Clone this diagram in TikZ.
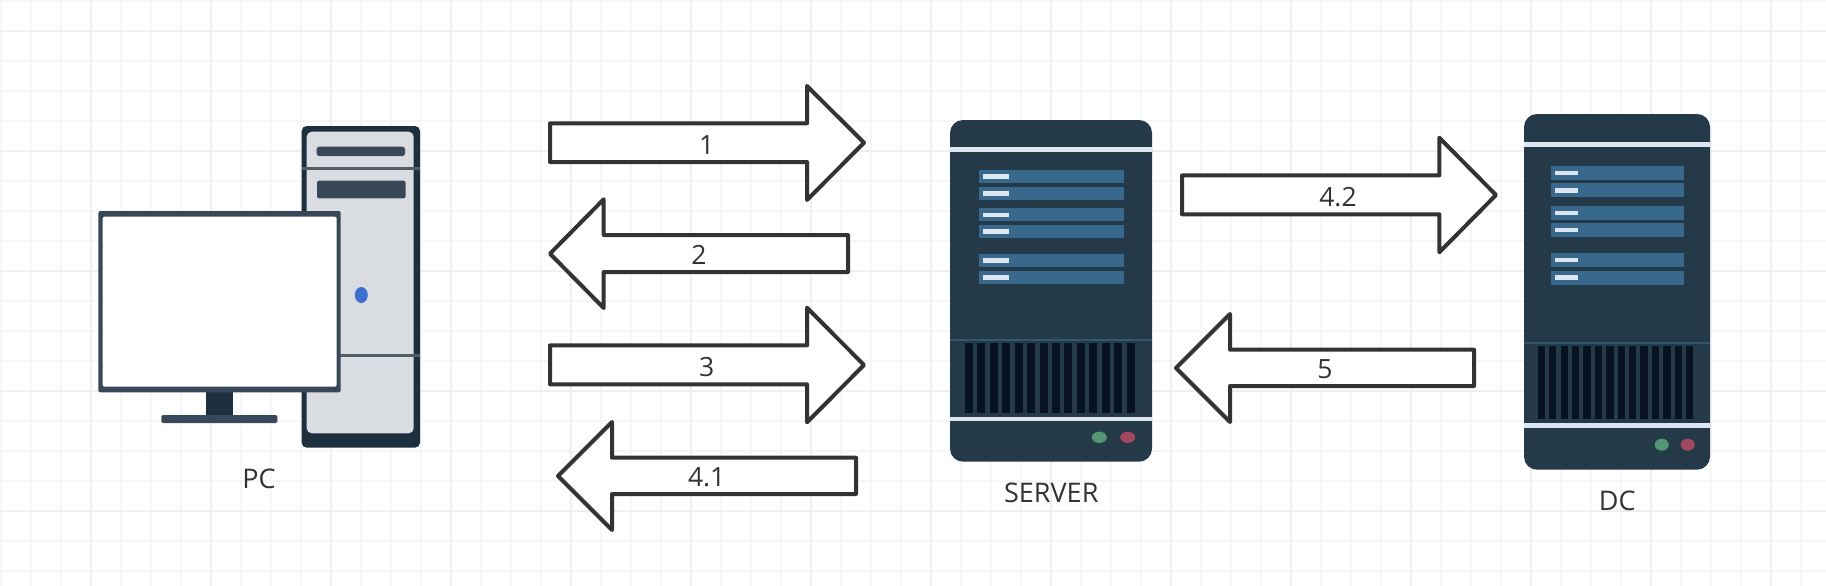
\documentclass[tikz,border=0pt]{standalone}
\usepackage{fontspec}
\setmainfont{Open Sans}
\definecolor{gridminor}{HTML}{F6F6F6}
\definecolor{gridmajor}{HTML}{EFEFEF}
\definecolor{ink}{HTML}{333333}
\definecolor{towerdark}{HTML}{1E2F3E}
\definecolor{towerface}{HTML}{D9DCE1}
\definecolor{towerline}{HTML}{4F5F62}
\definecolor{slate}{HTML}{384858}
\definecolor{powerdot}{HTML}{3B6FD0}
\definecolor{srvbody}{HTML}{243A48}
\definecolor{srvbarc}{HTML}{38698C}
\definecolor{srvpale}{HTML}{DCE6F0}
\definecolor{srvblue}{HTML}{2F5870}
\definecolor{srvslat}{HTML}{071321}
\definecolor{ledgreen}{HTML}{539672}
\definecolor{ledred}{HTML}{A1475F}
\tikzset{
  x=1pt,y=-1pt,
  blockarrow/.style={draw=ink,fill=white,line width=4pt,line join=round},
  lbl/.style={inner sep=0pt,anchor=base,text=ink,font=\fontsize{27}{30}\selectfont},
  numlbl/.style={inner sep=0pt,anchor=base,text=ink,font=\fontsize{26.5}{30}\selectfont}
}
\newcommand{\srvframe}[7]{%
  \fill[srvbody,rounded corners=13pt] (#1,#2) rectangle (#3,#4);
  \fill[srvpale] (#1,#5-2.2) rectangle (#3,#5+2.2);
  \fill[srvpale] (#1,#7-2.2) rectangle (#3,#7+2.2);
  \fill[srvblue] (#1,#6-1.2) rectangle (#3,#6+1.2);
}
\newcommand{\srvbar}[5]{%
  \fill[srvbarc] (#1,#4) rectangle (#2,#5);
  \fill[srvpale] (#1+3.5,{(#4+#5)/2-2.3}) rectangle (#3,{(#4+#5)/2+2.3});
}
\begin{document}
\begin{tikzpicture}
\useasboundingbox (0,0) rectangle (1826,586);
\fill[white] (0,0) rectangle (1826,586);
% grid
\foreach \k in {0,...,60} \draw[gridminor,line width=2pt] ({0.7+30*\k},0) -- ({0.7+30*\k},586);
\foreach \k in {0,...,19} \draw[gridminor,line width=2pt] (0,{0.7+30*\k}) -- (1826,{0.7+30*\k});
\foreach \k in {0,...,14} \draw[gridmajor,line width=2.2pt] ({90.7+120*\k},0) -- ({90.7+120*\k},586);
\foreach \k in {0,...,4} \draw[gridmajor,line width=2.2pt] (0,{30.7+120*\k}) -- (1826,{30.7+120*\k});
% PC tower
\fill[towerdark,rounded corners=5pt] (301.7,126) rectangle (420,447.7);
\fill[towerface,rounded corners=5pt] (306.7,131.7) rectangle (413.7,433.3);
\fill[towerline] (301.7,166.8) rectangle (420,169.9);
\fill[towerline] (301.7,354.2) rectangle (420,357.3);
\fill[slate,rounded corners=2.5pt] (316.7,146.7) rectangle (405,156);
\fill[slate,rounded corners=2pt] (317,180.7) rectangle (405.5,198.3);
\fill[powerdot] (361.3,295) ellipse [x radius=6.5,y radius=8];
% monitor
\fill[towerdark] (206,390) rectangle (233,416);
\fill[slate,rounded corners=1.5pt] (161.3,415) rectangle (277.3,423);
\fill[slate,rounded corners=2pt] (98.3,211) rectangle (340.7,392.3);
\fill[white,rounded corners=2pt] (102.7,216.7) rectangle (336.7,386.7);
\node[lbl] (pc) at (259,488.2) {PC};
% SERVER
\srvframe{950}{120}{1152}{461.7}{149.3}{339.7}{419}
\foreach \t/\b in {170/183,186.7/200,208.3/221.3,225/238,253.7/267,270.7/283.7}
  \srvbar{979}{1124}{1009}{\t}{\b}
\foreach \k in {0,...,13} \fill[srvslat] ({965+12.43*\k},343) rectangle ({973+12.43*\k},413.3);
\fill[ledgreen] (1099.3,437.3) ellipse [x radius=7.5,y radius=5.7];
\fill[ledred] (1127.7,437.3) ellipse [x radius=7.5,y radius=5.7];
\node[lbl] (server) at (1051.3,502.4) {SERVER};
% DC
\srvframe{1524}{114}{1710}{469.7}{144.3}{342.7}{425.3}
\foreach \t/\b in {166/180,183.3/197.3,206/220,223/237,253/267,270.7/284.7}
  \srvbar{1551}{1684}{1578.3}{\t}{\b}
\foreach \k in {0,...,13} \fill[srvslat] ({1537.7+11.42*\k},346.3) rectangle ({1545+11.42*\k},419.3);
\fill[ledgreen] (1661.7,444.7) ellipse [x radius=7,y radius=6];
\fill[ledred] (1687.7,444.7) ellipse [x radius=7,y radius=6];
\node[lbl] (dc) at (1617.3,510) {DC};
% block arrows
\draw[blockarrow] (550,123.3) -- (807,123.3) -- (807,86) -- (864,142.7) -- (807,200) -- (807,162) -- (550,162) -- cycle;
\node[numlbl] (a1) at (706.7,154.2) {1};
\draw[blockarrow] (848,235) -- (603.7,235) -- (603.7,199.3) -- (550,253.7) -- (603.7,308) -- (603.7,272) -- (848,272) -- cycle;
\node[numlbl] (a2) at (699,264.2) {2};
\draw[blockarrow] (550,345.3) -- (807,345.3) -- (807,307.7) -- (864,365) -- (807,422.3) -- (807,384.3) -- (550,384.3) -- cycle;
\node[numlbl] (a3) at (706.7,376.5) {3};
\draw[blockarrow] (856,457.7) -- (612,457.7) -- (612,422) -- (558,476) -- (612,530) -- (612,494) -- (856,494) -- cycle;
\node[numlbl] (a41) at (706.7,486.2) {4.1};
\draw[blockarrow] (1182,175.3) -- (1439.3,175.3) -- (1439.3,137.7) -- (1496,195) -- (1439.3,252.3) -- (1439.3,214.3) -- (1182,214.3) -- cycle;
\node[numlbl] (a42) at (1338,206.2) {4.2};
\draw[blockarrow] (1474,349.7) -- (1230,349.7) -- (1230,314) -- (1176,368) -- (1230,422) -- (1230,386) -- (1474,386) -- cycle;
\node[numlbl] (a5) at (1325,378.2) {5};
\end{tikzpicture}
\end{document}
